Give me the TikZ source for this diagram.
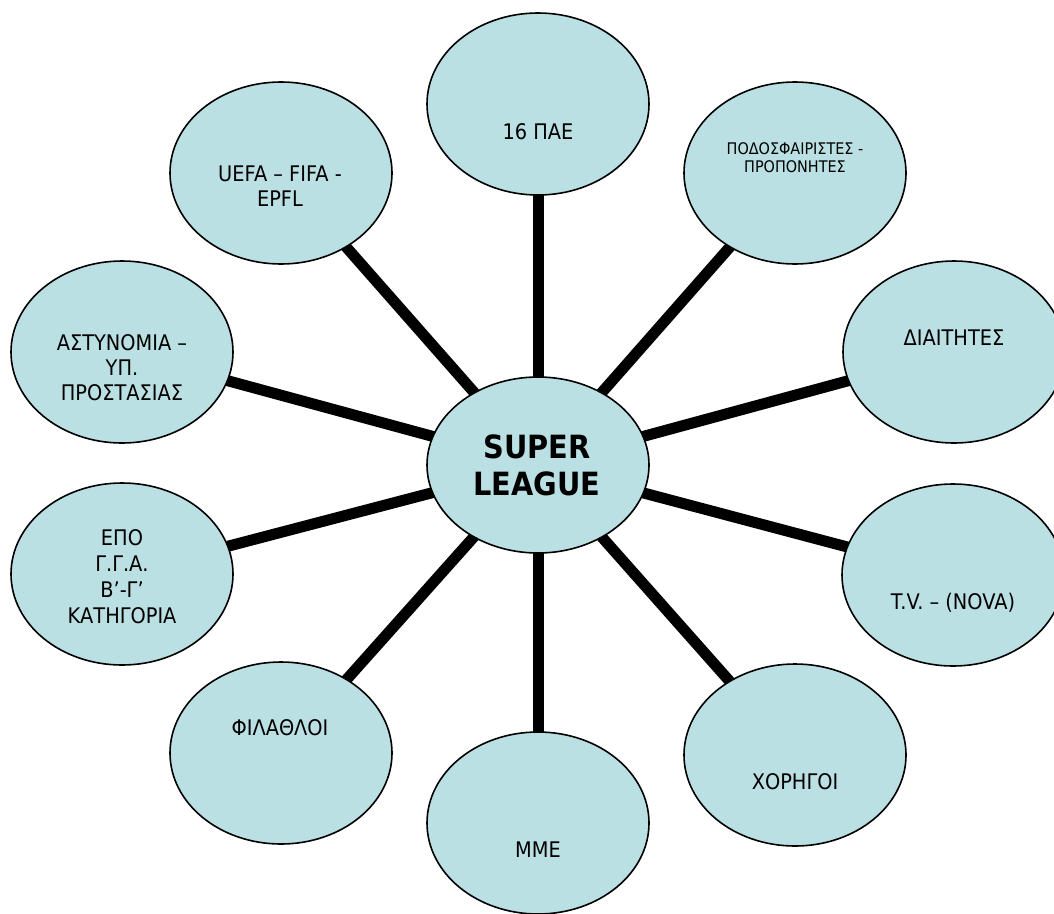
\documentclass[tikz,border=0pt]{standalone}
\usepackage{fontspec}
\setmainfont{DejaVu Sans}[FakeStretch=0.9]
\usetikzlibrary{shapes.geometric,backgrounds}
\definecolor{bub}{RGB}{187,224,227}
\begin{document}
\begin{tikzpicture}[x=1pt,y=-1pt,
  bubble/.style={ellipse,draw=black,line width=1.6pt,fill=bub,minimum width=222pt,minimum height=182pt,inner sep=0pt},
  lbl/.style={anchor=base,align=center,inner sep=0pt,font=\fontsize{21.5}{25.5}\selectfont},
  smalllbl/.style={anchor=base,align=center,inner sep=0pt,font=\fontsize{16}{18}\selectfont},
  biglbl/.style={anchor=base,align=center,inner sep=0pt,font=\bfseries\fontsize{32}{36.7}\selectfont},
  link/.style={line width=11pt,draw=black}]
\useasboundingbox (0,0) rectangle (1054,913);
% bubbles
\node[bubble,minimum height=176pt] (sl) at (538,465) {};
\node[bubble] (pae) at (538,104) {};
\node[bubble] (pod) at (795,173) {};
\node[bubble] (dia) at (954,352) {};
\node[bubble] (tv) at (953,575) {};
\node[bubble] (xor) at (795,755) {};
\node[bubble] (mme) at (538,823) {};
\node[bubble] (fil) at (281,753) {};
\node[bubble] (epo) at (122,574) {};
\node[bubble] (ast) at (122,352) {};
\node[bubble] (uefa) at (281,173) {};
% connectors
\begin{scope}[on background layer]
\foreach \n in {pae,pod,dia,tv,xor,mme,fil,epo,ast,uefa}
  \draw[link] (sl.center) -- (\n.center);
\end{scope}
% labels (anchor base = baseline of last line)
\node[biglbl] (tsl) at (537,495) {SUPER\\LEAGUE};
\node[lbl] (tpae) at (538,139.5) {16 ΠΑΕ};
\node[smalllbl] (tpod) at (795,172.7) {ΠΟΔΟΣΦΑΙΡΙΣΤΕΣ -\\ΠΡΟΠΟΝΗΤΕΣ};
\node[lbl] (tdia) at (954,345.5) {ΔΙΑΙΤΗΤΕΣ};
\node[lbl] (ttv) at (953,609.5) {T.V. – (NOVA)};
\node[lbl] (txor) at (795,789.5) {ΧΟΡΗΓΟΙ};
\node[lbl] (tmme) at (538,857.5) {ΜΜΕ};
\node[lbl] (tfil) at (280,735.5) {ΦΙΛΑΘΛΟΙ};
\node[lbl,font=\fontsize{21.5}{25.8}\selectfont] (tepo) at (122,623.2) {ΕΠΟ\\Γ.Γ.Α.\\Β’-Γ’\\ΚΑΤΗΓΟΡΙΑ};
\node[lbl,font=\fontsize{21.5}{25}\selectfont] (tast) at (122,400.5) {ΑΣΤΥΝΟΜΙΑ –\\ΥΠ.\\ΠΡΟΣΤΑΣΙΑΣ};
\node[lbl,font=\fontsize{21.5}{25}\selectfont] (tuefa) at (280,206.5) {UEFA – FIFA -\\EPFL};
\end{tikzpicture}
\end{document}
